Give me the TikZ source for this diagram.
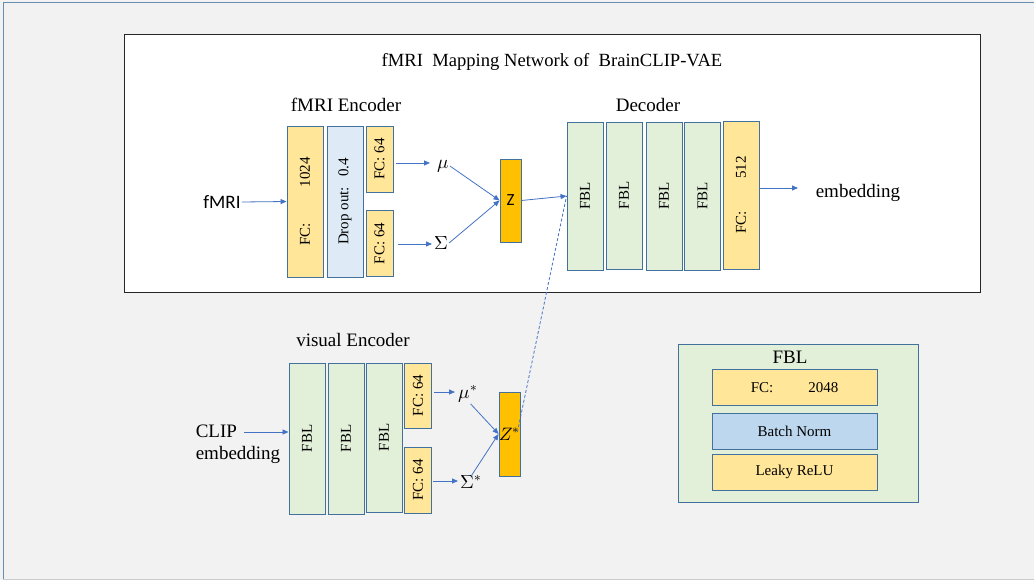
\documentclass[tikz,border=0pt]{standalone}
\usepackage{fontspec}
\usepackage{unicode-math}
\setmainfont{Liberation Serif}
\setmathfont{Latin Modern Math}
\newfontfamily\calib{Carlito}
\usetikzlibrary{arrows.meta}
\definecolor{bd}{RGB}{65,113,156}
\definecolor{yel}{RGB}{255,230,153}
\definecolor{grn}{RGB}{226,240,217}
\definecolor{lblue}{RGB}{222,235,247}
\definecolor{mblue}{RGB}{189,215,238}
\definecolor{org}{RGB}{255,192,0}
\definecolor{arr}{RGB}{68,114,196}
\definecolor{bg}{RGB}{242,242,242}
\tikzset{
  lay/.style={draw=bd, line width=0.9pt, inner sep=0pt, font=\fontsize{15}{17}\selectfont},
  tall/.style={lay, minimum width=36pt, minimum height=151pt},
  half/.style={lay, minimum width=27pt, minimum height=66pt},
  zbox/.style={lay, fill=org, minimum width=21pt, minimum height=83pt},
  wide/.style={lay, minimum width=165pt, minimum height=36pt},
  lbl/.style={inner sep=1pt, font=\fontsize{19}{22}\selectfont},
  arw/.style={draw=arr, line width=0.8pt, -{Triangle[length=6pt,width=5pt]}},
  ln/.style={draw=arr, line width=0.8pt},
}
\begin{document}
\begin{tikzpicture}[x=1pt,y=-1pt]
\useasboundingbox (0,0) rectangle (1034,580);
\fill[bg] (0,0) rectangle (1034,580);
\draw[bd!80, line width=1pt] (3,580) -- (3,3) -- (1034,3);
\draw[black!20, line width=1pt] (3,579) -- (1034,579);
% main white panel
\draw[fill=white, draw=black!85, line width=0.8pt] (124,34) rectangle (980,292);
\node[lbl, font=\fontsize{18.6}{22}\selectfont] (title) at (552,62) {fMRI\ \ Mapping Network of\ \ BrainCLIP-VAE};

% fMRI encoder
\node[lbl] (enclbl) at (346,105) {fMRI Encoder};
\node[tall, fill=yel] (fc1) at (305,201.5) {\rotatebox{90}{FC:\hspace{36pt}1024}};
\node[tall, fill=lblue] (drop) at (345,201.5) {\rotatebox{90}{Drop out:\hspace{10pt}0.4}};
\node[half, fill=yel] (fcmu) at (379.5,159) {\rotatebox{90}{FC: 64}};
\node[half, fill=yel] (fcsig) at (379.5,243.5) {\rotatebox{90}{FC: 64}};
\node[lbl, font=\calib\fontsize{19}{22}\selectfont] (fmri) at (222,202) {fMRI};
\node[lbl] (mu) at (443,166) {$\mu$};
\node[lbl] (sig) at (441,243) {$\Sigma$};
\node[zbox] (z) at (510.5,200.5) {\calib\fontsize{17}{20}\selectfont Z};

% decoder
\node[lbl] (declbl) at (648,105) {Decoder};
\node[tall, fill=grn, minimum height=148pt] (d1) at (585,196) {\rotatebox{90}{FBL}};
\node[tall, fill=grn, minimum height=147pt] (d2) at (624,195.5) {\rotatebox{90}{FBL}};
\node[tall, fill=grn, minimum height=148pt] (d3) at (664,196) {\rotatebox{90}{FBL}};
\node[tall, fill=grn, minimum height=148pt] (d4) at (702.5,196) {\rotatebox{90}{FBL}};
\node[tall, fill=yel, minimum height=148pt] (dfc) at (741,195) {\rotatebox{90}{FC:\hspace{32pt}512}};
\node[lbl] (emb) at (858,193) {embedding};

% visual encoder
\node[lbl] (vislbl) at (353,340) {visual Encoder};
\node[tall, fill=grn] (v1) at (307,438.5) {\rotatebox{90}{FBL}};
\node[tall, fill=grn] (v2) at (346,438.5) {\rotatebox{90}{FBL}};
\node[tall, fill=grn, minimum height=149pt] (v3) at (384,437.5) {\rotatebox{90}{FBL}};
\node[half, fill=yel, minimum height=65pt] (vmu) at (418,395.5) {\rotatebox{90}{FC: 64}};
\node[half, fill=yel] (vsig) at (418,480) {\rotatebox{90}{FC: 64}};
\node[lbl, align=left] (clip) at (238,444) {CLIP\\embedding};
\node[lbl] (mus) at (468,394) {$\mu^{*}$};
\node[lbl] (sigs) at (471,482) {$\Sigma^{*}$};
\node[zbox, minimum height=84pt] (zs) at (509.5,434) {\fontsize{18}{20}\selectfont$Z^{*}$};

% FBL legend
\node[draw=bd, line width=0.9pt, fill=grn, minimum width=240pt, minimum height=158pt] (leg) at (798.5,423) {};
\node[lbl] (legt) at (790,357) {FBL};
\node[wide, fill=yel] (lfc) at (794.5,387.5) {FC:\hspace{35pt}2048};
\node[wide, fill=mblue] (lbn) at (794.5,431) {Batch Norm};
\node[wide, fill=yel] (lrl) at (794.5,472) {Leaky ReLU};

% connectors
\coordinate (ymu) at (0,163);
\coordinate (ysig) at (0,244);
\coordinate (yemb) at (0,188);
\coordinate (clipout) at (244,432);
\coordinate (yvmu) at (0,392);
\coordinate (yvsig) at (0,481);
\draw[arw] (fmri.east) -- (fc1.west);
\draw[arw, shorten <=3pt] (fcmu.east |- ymu) -- (430,163);
\draw[arw, shorten <=5pt] (fcsig.east |- ysig) -- (432,244);
\draw[arw] (mu.east) -- (z.west);
\draw[arw] (sig.east) -- (z.west);
\draw[arw] (z.east) -- (d1.west);
\draw[arw] (dfc.east |- yemb) -- (798,188);
\draw[ln, dashed, dash pattern=on 3pt off 2pt] (zs.east) ++(-3,-2) -- (d1.west);
\draw[arw] (clipout) -- (v1.west |- clipout);
\draw[arw, shorten <=2pt] (vmu.east |- yvmu) -- (455,392);
\draw[arw, shorten <=1pt] (vsig.east |- yvsig) -- (458,481);
\draw[arw] (mus.south east) ++(-8,0) -- (zs.west);
\draw[arw] (sigs.north) ++(0,2) -- (zs.west);
\end{tikzpicture}
\end{document}
